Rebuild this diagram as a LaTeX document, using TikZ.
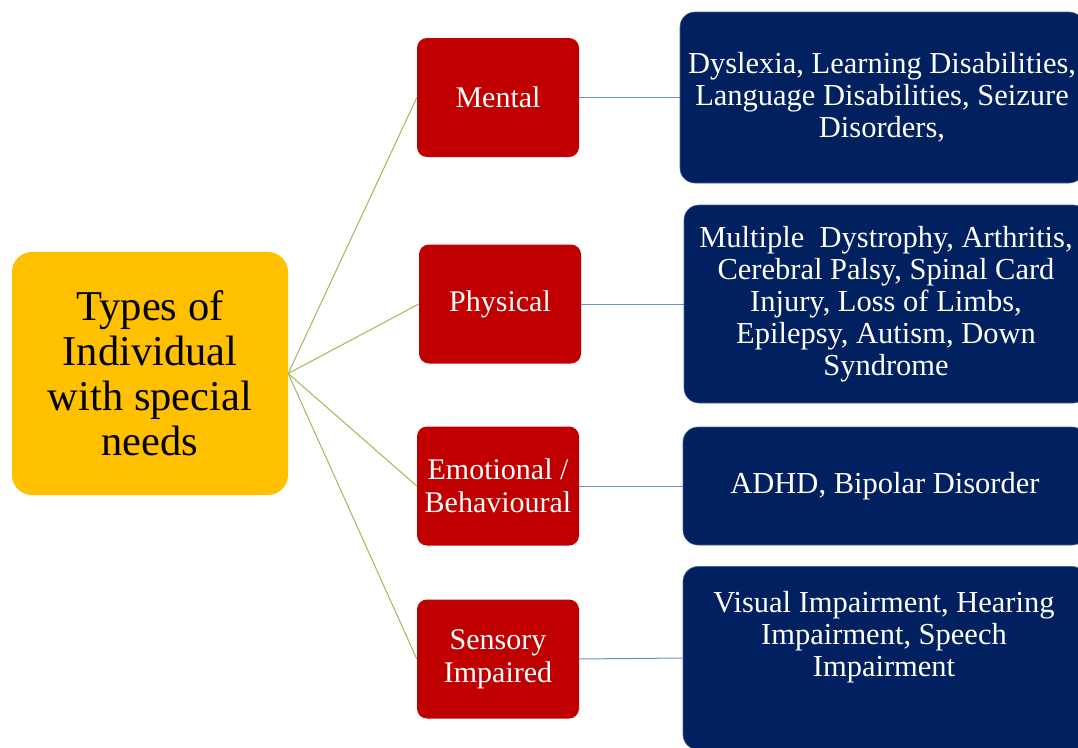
\documentclass[tikz,border=0pt]{standalone}
\usepackage{fontspec}
\setmainfont{Liberation Serif}
\definecolor{cyellow}{HTML}{FFC000}
\definecolor{cred}{HTML}{C00000}
\definecolor{cnavy}{HTML}{002060}
\definecolor{cgreen}{HTML}{9BBB59}
\definecolor{cline}{HTML}{6F8FBF}
\begin{document}
\begin{tikzpicture}[x=1pt,y=-1pt,
  rootbox/.style={rectangle,rounded corners=20pt,fill=cyellow,inner sep=0pt,align=center,
    minimum width=276pt,minimum height=243pt,font=\fontsize{42.5}{45}\selectfont,text=black},
  catbox/.style={rectangle,rounded corners=10pt,fill=cred,inner sep=0pt,align=center,
    minimum width=162pt,minimum height=119pt,font=\fontsize{30}{33}\selectfont,text=white},
  descbox/.style={rectangle,rounded corners=15pt,fill=cnavy,draw=cnavy!70!white,line width=0.6pt,inner sep=0pt,align=center,
    minimum width=404pt,font=\fontsize{30.5}{32}\selectfont,text=white},
  desctext/.style={align=center,inner sep=0pt,font=\fontsize{30.5}{32}\selectfont,text=white},
  branch/.style={draw=cgreen,line width=1pt},
  link/.style={draw=cline,line width=1pt}]
\useasboundingbox (0,0) rectangle (1078,747);
\fill[white] (0,0) rectangle (1078,747);

\node[rootbox] (root) at (150,373.5) {Types of\\Individual\\with special\\needs};

\node[catbox] (mental) at (498,97.5) {Mental};
\node[catbox] (physical) at (500,304) {Physical};
\node[catbox] (emotional) at (498,486) {Emotional /\\Behavioural};
\node[catbox] (sensory) at (498,659) {Sensory\\Impaired};

\node[descbox,minimum height=171pt] (d1) at (882,97.5) {Dyslexia, Learning Disabilities,\\Language Disabilities, Seizure\\Disorders,};
\node[descbox,minimum height=198pt] (d2) at (886,304) {Multiple\ \ Dystrophy, Arthritis,\\Cerebral Palsy, Spinal Card\\Injury, Loss of Limbs,\\Epilepsy, Autism, Down\\Syndrome};
\node[descbox,minimum height=118pt] (d3) at (885,486) {ADHD, Bipolar Disorder};
\node[descbox,minimum height=183pt] (d4) at (885,658) {};
\node[desctext] (d4t) at (884,637) {Visual Impairment, Hearing\\Impairment, Speech\\Impairment};

\draw[branch] (root.east) -- (mental.west);
\draw[branch] (root.east) -- (physical.west);
\draw[branch] (root.east) -- (emotional.west);
\draw[branch] (root.east) -- (sensory.west);

\draw[link] (mental.east) -- (d1.west);
\draw[link] (physical.east) -- (d2.west);
\draw[link] (emotional.east) -- (d3.west);
\draw[link] (sensory.east) -- (d4.west);
\end{tikzpicture}
\end{document}
